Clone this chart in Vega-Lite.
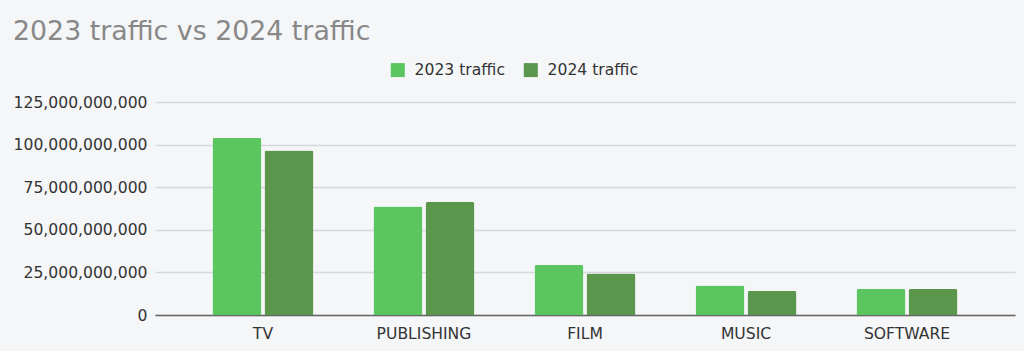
{
  "$schema": "https://vega.github.io/schema/vega-lite/v6.json",
  "width": 860,
  "height": 213,
  "autosize": {"type": "none"},
  "padding": {"left": 155, "top": 102, "right": 9, "bottom": 36},
  "background": "#f5f6f8",
  "title": {
    "text": "2023 traffic vs 2024 traffic",
    "anchor": "start",
    "frame": "group",
    "dx": -142,
    "dy": 27,
    "offset": 22,
    "font": "DejaVu Sans",
    "fontSize": 26.8,
    "fontWeight": "normal",
    "color": "#888888",
    "baseline": "alphabetic"
  },
  "data": {
    "values": [
      {"category": "TV", "series": "2023 traffic", "value": 103900000000},
      {"category": "TV", "series": "2024 traffic", "value": 96500000000},
      {"category": "PUBLISHING", "series": "2023 traffic", "value": 63700000000},
      {"category": "PUBLISHING", "series": "2024 traffic", "value": 66300000000},
      {"category": "FILM", "series": "2023 traffic", "value": 29300000000},
      {"category": "FILM", "series": "2024 traffic", "value": 24400000000},
      {"category": "MUSIC", "series": "2023 traffic", "value": 17300000000},
      {"category": "MUSIC", "series": "2024 traffic", "value": 14100000000},
      {"category": "SOFTWARE", "series": "2023 traffic", "value": 15300000000},
      {"category": "SOFTWARE", "series": "2024 traffic", "value": 15200000000}
    ]
  },
  "mark": {"type": "bar", "cornerRadiusTopLeft": 2, "cornerRadiusTopRight": 2},
  "encoding": {
    "x": {
      "field": "category",
      "type": "nominal",
      "sort": null,
      "scale": {"paddingInner": 0.373, "paddingOuter": 0.357},
      "axis": {
        "title": null,
        "labelAngle": 0,
        "ticks": false,
        "labelFont": "DejaVu Sans",
        "labelFontSize": 15.6,
        "labelColor": "#333333",
        "labelPadding": 11,
        "domainColor": "#666666",
        "domainWidth": 1.5,
        "grid": false
      }
    },
    "xOffset": {
      "field": "series",
      "type": "nominal",
      "scale": {"paddingInner": 0.06}
    },
    "y": {
      "field": "value",
      "type": "quantitative",
      "scale": {"domain": [0, 125000000000]},
      "axis": {
        "title": null,
        "values": [0, 25000000000, 50000000000, 75000000000, 100000000000, 125000000000],
        "format": ",d",
        "ticks": false,
        "domain": false,
        "labelFont": "DejaVu Sans",
        "labelFontSize": 15.6,
        "labelColor": "#333333",
        "labelPadding": 8,
        "gridColor": "#d6d8dc",
        "gridWidth": 1.5
      }
    },
    "color": {
      "field": "series",
      "type": "nominal",
      "scale": {"domain": ["2023 traffic", "2024 traffic"], "range": ["#5bc55f", "#5a964c"]},
      "legend": {
        "title": null,
        "orient": "none",
        "direction": "horizontal",
        "legendX": 235,
        "legendY": -40,
        "symbolType": "square",
        "symbolSize": 196,
        "symbolStrokeWidth": 0,
        "symbolOpacity": 1,
        "labelFont": "DejaVu Sans",
        "labelFontSize": 15.6,
        "labelColor": "#333333",
        "labelOffset": 9,
        "columnPadding": 18
      }
    }
  },
  "config": {"view": {"stroke": null}}
}
